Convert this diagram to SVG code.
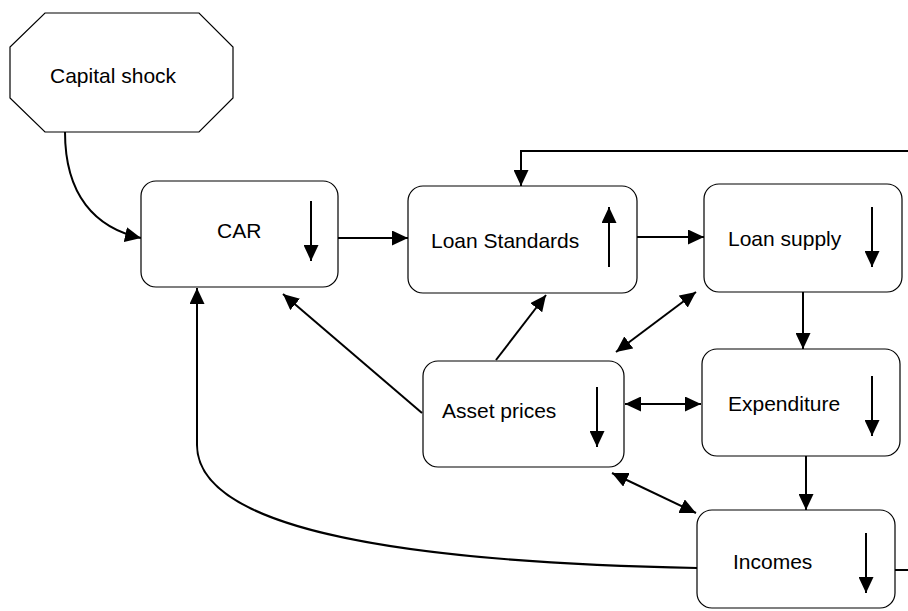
<svg xmlns="http://www.w3.org/2000/svg" width="908" height="611" viewBox="0 0 908 611">
<style>
.box{fill:#fff;stroke:#000;stroke-width:1.2}
.lbl{font-family:"Liberation Sans",Arial,sans-serif;font-size:21px;fill:#000}
.c{fill:none;stroke:#000;stroke-width:2}
.e{marker-end:url(#ah)}
.b{marker-start:url(#ah);marker-end:url(#ah)}
</style>
<defs>
<marker id="ah" viewBox="0 0 16 15" refX="16" refY="7.5" markerWidth="16" markerHeight="15" markerUnits="userSpaceOnUse" orient="auto-start-reverse">
<path d="M0,0 L16,7.5 L0,15 Z" fill="#000"/>
</marker>
</defs>
<rect width="908" height="611" fill="#fff"/>
<g id="connectors">
<path class="c e" d="M65,132 C65,195 95,228 141,238"/>
<path class="c e" d="M338,238 L408,238"/>
<path class="c e" d="M637,237 L704,237"/>
<path class="c e" d="M895,570 L912,570 L912,151 L521,151 L521,186"/>
<path class="c e" d="M803,292 L803,349"/>
<path class="c e" d="M806,456 L806,510"/>
<path class="c e" d="M496,360 L546,295"/>
<path class="c b" d="M616,352 L696,292"/>
<path class="c e" d="M422,413 L283,294"/>
<path class="c b" d="M625,404 L701,404"/>
<path class="c b" d="M612,473 L696,513"/>
<path class="c e" d="M697,568 C380,562 197,525 197,445 L197,288"/>
</g>
<g id="capital-shock">
<polygon class="box" points="45,13 199,13 233,47 233,98 199,132 45,132 10,98 10,47"/>
<text class="lbl" x="50" y="83">Capital shock</text>
</g>
<g id="car">
<rect class="box" x="141" y="181" width="197" height="106" rx="15"/>
<text class="lbl" x="217" y="238">CAR</text>
<path class="c e" d="M311,201 L311,261"/>
</g>
<g id="loan-standards">
<rect class="box" x="408" y="186" width="229" height="107" rx="15"/>
<text class="lbl" x="431" y="248">Loan Standards</text>
<path class="c e" d="M609,267 L609,207"/>
</g>
<g id="loan-supply">
<rect class="box" x="704" y="184" width="198" height="108" rx="15"/>
<text class="lbl" x="728" y="246">Loan supply</text>
<path class="c e" d="M872,207 L872,267"/>
</g>
<g id="expenditure">
<rect class="box" x="702" y="349" width="198" height="107" rx="15"/>
<text class="lbl" x="728" y="411">Expenditure</text>
<path class="c e" d="M872,376 L872,436"/>
</g>
<g id="asset-prices">
<rect class="box" x="423" y="361" width="201" height="106" rx="15"/>
<text class="lbl" x="442" y="418">Asset prices</text>
<path class="c e" d="M597,387 L597,447"/>
</g>
<g id="incomes">
<rect class="box" x="697" y="510" width="198" height="98" rx="15"/>
<text class="lbl" x="733" y="569">Incomes</text>
<path class="c e" d="M866,533 L866,593"/>
</g>
</svg>
